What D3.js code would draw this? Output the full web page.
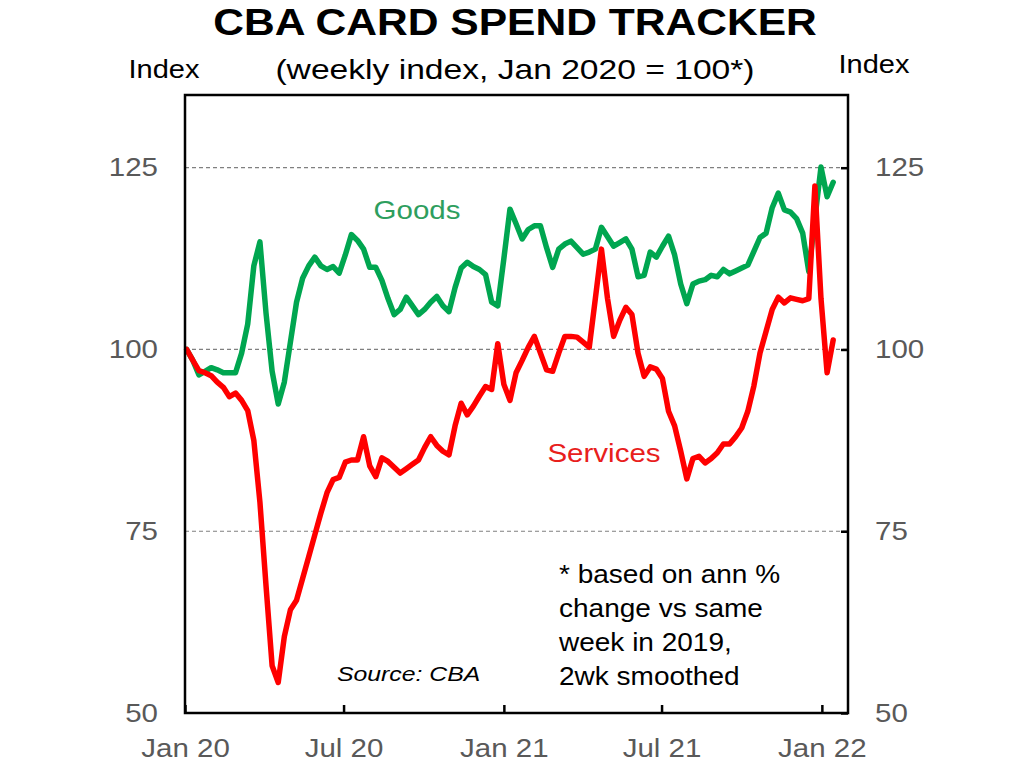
<!DOCTYPE html>
<html>
<head>
<meta charset="utf-8">
<script src="https://cdn.jsdelivr.net/npm/d3@7"></script>
<style>
  html, body { margin: 0; padding: 0; background: #fff; }
  svg { display: block; font-family: "Liberation Sans", Arial, sans-serif; }
</style>
</head>
<body>
<svg id="chart" width="1024" height="768"></svg>
<script>
// ---- data (weekly) ----
const startDate = "2020-01-03";
const goods = [
  100, 98.5, 96.5, 97, 97.5, 97.2, 96.8, 96.8, 96.8, 99.5,
  103.5, 111.5, 114.8, 105, 97, 92.5, 95.5, 101, 106.5, 109.8,
  111.5, 112.7, 111.5, 111, 111.4, 110.5, 113, 115.8, 115, 113.8,
  111.3, 111.3, 109.5, 107, 104.8, 105.5, 107.2, 106, 104.8, 105.5,
  106.5, 107.3, 106, 105.2, 108.5, 111.2, 112, 111.4, 111, 110.3,
  106.5, 106, 112.5, 119.3, 117.3, 115.2, 116.5, 117, 117, 114,
  111.3, 113.8, 114.5, 114.9, 114, 113.1, 113.4, 113.8, 116.8, 115.5,
  114.2, 114.7, 115.2, 113.8, 110, 110.2, 113.4, 112.7, 114.2, 115.6,
  113, 109, 106.3, 109, 109.4, 109.6, 110.2, 110, 111, 110.4,
  110.8, 111.2, 111.6, 113.5, 115.4, 116, 119.5, 121.5, 119.2, 118.9,
  118, 116, 110.7, 118, 125.1, 121, 123
];
const services = [
  100, 98.5, 97.1, 96.8, 96.4, 95.5, 94.8, 93.5, 94, 93,
  91.6, 87.5, 79, 67.5, 56.5, 54.2, 60.5, 64.2, 65.5, 68.5,
  71.5, 74.5, 77.5, 80.3, 82.1, 82.4, 84.5, 84.8, 84.8, 88,
  84, 82.5, 85.1, 84.6, 83.8, 83, 83.6, 84.2, 84.8, 86.5,
  88, 86.8, 86, 85.5, 89.5, 92.6, 91, 92.2, 93.6, 94.9,
  94.5, 100.8, 95.2, 93, 96.8, 98.5, 100.3, 101.8, 99.5, 97.2,
  97, 99.5, 101.8, 101.8, 101.7, 101, 100.3, 107, 113.8, 107,
  101.8, 104, 105.8, 104.8, 99.5, 96.3, 97.6, 97.3, 96, 91.5,
  89.5, 86, 82.2, 85, 85.3, 84.4, 85, 85.8, 87, 87,
  88, 89.2, 91.5, 95, 99.5, 102.5, 105.5, 107.2, 106.4, 107.1,
  106.9, 106.7, 107, 122.5, 107, 96.8, 101.3
];
const yTicks = [50, 75, 100, 125];
const xTickDates = ["2020-01-01", "2020-07-01", "2021-01-01", "2021-07-01", "2022-01-01"];
const xTickLabels = ["Jan 20", "Jul 20", "Jan 21", "Jul 21", "Jan 22"];
const footnoteLines = ["* based on ann %", "change vs same", "week in 2019,", "2wk smoothed"];

// ---- layout ----
const svg = d3.select("#chart");
const L = 185, R = 848, T = 95, B = 713;
const FONT = "Liberation Sans, Arial, sans-serif";
const parse = d3.utcParse("%Y-%m-%d");
const t0 = parse(startDate);
const dates = goods.map((_, i) => d3.utcDay.offset(t0, 7 * i));

const x = d3.scaleUtc().domain([parse("2020-01-01"), parse("2022-01-31")]).range([L, R]);
const y = d3.scaleLinear().domain([50, 135]).range([B, T]);

// horizontally widen text glyphs (reference text is wider than Liberation Sans)
function widen(sel, k) {
  sel.each(function() {
    const w = this.getComputedTextLength();
    d3.select(this).attr("textLength", w * k).attr("lengthAdjust", "spacingAndGlyphs");
  });
}

// gridlines
svg.append("g").selectAll("line").data([75, 100, 125]).join("line")
  .attr("x1", L).attr("x2", R)
  .attr("y1", d => y(d)).attr("y2", d => y(d))
  .attr("stroke", "#808080").attr("stroke-width", 1.2).attr("stroke-dasharray", "4,3");

// lines
const line = d3.line().x((d, i) => x(dates[i])).y(d => y(d)).curve(d3.curveLinear);
svg.append("path").datum(goods).attr("d", line)
  .attr("fill", "none").attr("stroke", "#00a650").attr("stroke-width", 5.5)
  .attr("stroke-linejoin", "round").attr("stroke-linecap", "round");
svg.append("path").datum(services).attr("d", line)
  .attr("fill", "none").attr("stroke", "#ff0000").attr("stroke-width", 5.5)
  .attr("stroke-linejoin", "round").attr("stroke-linecap", "round");

// frame
svg.append("rect").attr("x", L).attr("y", T).attr("width", R - L).attr("height", B - T)
  .attr("fill", "none").attr("stroke", "#000").attr("stroke-width", 2.5);

// bottom axis (inward ticks)
const xTicks = xTickDates.map(parse);
const xAxis = d3.axisBottom(x).tickValues(xTicks).tickSize(-8).tickPadding(26)
  .tickFormat((d, i) => xTickLabels[i]);
const gx = svg.append("g").attr("transform", `translate(0,${B})`).call(xAxis);
gx.select(".domain").remove();
gx.selectAll(".tick line").attr("stroke", "#000").attr("stroke-width", 2.5);
gx.selectAll(".tick text").attr("fill", "#595959").attr("font-size", 25).attr("font-family", FONT);
widen(gx.selectAll(".tick text"), 1.18);

// left axis labels
const yAxisL = d3.axisLeft(y).tickValues(yTicks).tickSize(0).tickPadding(27);
const gyl = svg.append("g").attr("transform", `translate(${L},0)`).call(yAxisL);
gyl.select(".domain").remove();
gyl.selectAll(".tick text").attr("fill", "#595959").attr("font-size", 25).attr("font-family", FONT);
widen(gyl.selectAll(".tick text"), 1.18);

// right axis (inward ticks)
const yAxisR = d3.axisRight(y).tickValues(yTicks).tickSize(-7).tickPadding(27);
const gyr = svg.append("g").attr("transform", `translate(${R},0)`).call(yAxisR);
gyr.select(".domain").remove();
gyr.selectAll(".tick line").attr("stroke", "#000").attr("stroke-width", 2.5);
gyr.selectAll(".tick text").attr("fill", "#595959").attr("font-size", 25).attr("font-family", FONT);
widen(gyr.selectAll(".tick text"), 1.18);

// titles
const title = svg.append("text").attr("x", 515).attr("y", 35).attr("text-anchor", "middle")
  .attr("font-size", 37).attr("font-weight", "bold").attr("fill", "#000")
  .text("CBA CARD SPEND TRACKER");
widen(title, 1.15);
const sub = svg.append("text").attr("x", 515).attr("y", 79).attr("text-anchor", "middle")
  .attr("font-size", 28).attr("fill", "#000")
  .text("(weekly index, Jan 2020 = 100*)");
widen(sub, 1.2);
const idxL = svg.append("text").attr("x", 164).attr("y", 78).attr("text-anchor", "middle")
  .attr("font-size", 25).attr("fill", "#000").text("Index");
widen(idxL, 1.16);
const idxR = svg.append("text").attr("x", 874).attr("y", 73).attr("text-anchor", "middle")
  .attr("font-size", 25).attr("fill", "#000").text("Index");
widen(idxR, 1.16);

// series labels
const gl = svg.append("text").attr("x", 417).attr("y", 219).attr("text-anchor", "middle")
  .attr("font-size", 25).attr("fill", "#2e9e5e").text("Goods");
widen(gl, 1.18);
const sl = svg.append("text").attr("x", 604).attr("y", 462).attr("text-anchor", "middle")
  .attr("font-size", 25).attr("fill", "#e8201c").text("Services");
widen(sl, 1.18);

// source
const src = svg.append("text").attr("x", 337).attr("y", 681).attr("font-size", 21)
  .attr("font-style", "italic").attr("fill", "#000").text("Source: CBA");
widen(src, 1.18);

// footnote
const fn = svg.append("g").selectAll("text").data(footnoteLines).join("text")
  .attr("x", 559).attr("y", (d, i) => 583 + i * 34)
  .attr("font-size", 25).attr("fill", "#000").text(d => d);
widen(fn, 1.12);
</script>
</body>
</html>
